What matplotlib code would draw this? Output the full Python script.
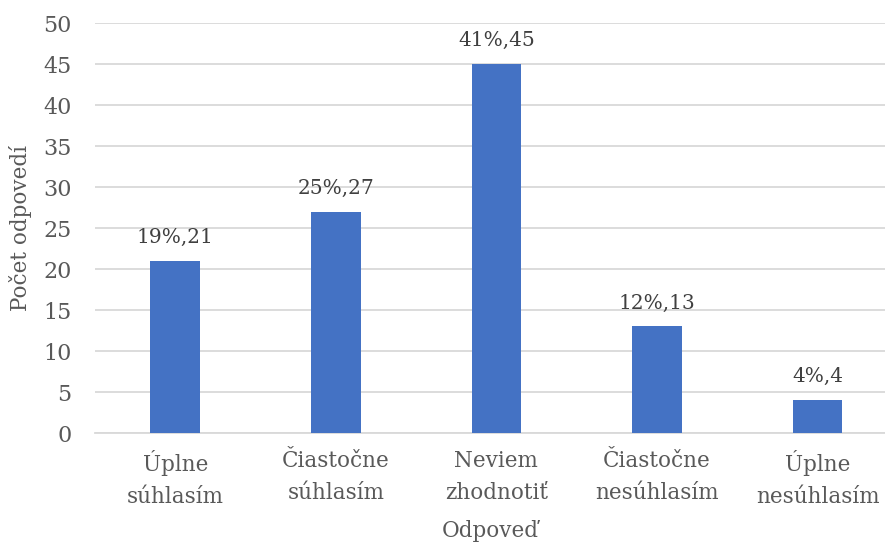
import matplotlib
matplotlib.use("Agg")
import matplotlib.pyplot as plt

categories = ["Úplne\nsúhlasím", "Čiastočne\nsúhlasím", "Neviem\nzhodnotiť",
              "Čiastočne\nnesúhlasím", "Úplne\nnesúhlasím"]
counts = [21, 27, 45, 13, 4]
percents = ["19%", "25%", "41%", "12%", "4%"]
yticks = [0, 5, 10, 15, 20, 25, 30, 35, 40, 45, 50]

plt.rcParams['font.family'] = ['DejaVu Serif']
text_color = '#595959'

fig = plt.figure(figsize=(8.85, 5.46), dpi=100)
ax = fig.add_axes([95 / 885, 113 / 546, 1 - 95 / 885, (433 - 23.3) / 546])

x = list(range(len(categories)))
bars = ax.bar(x, counts, width=0.31, color='#4472c4', zorder=3)

for i, b in enumerate(bars):
    ax.annotate(f"{percents[i]},{counts[i]}", (b.get_x() + b.get_width() / 2, b.get_height()),
                xytext=(0, 10), textcoords='offset points', ha='center', va='bottom',
                fontsize=14.5, color='#404040')

ax.set_xlim(-0.5, 4.42)
ax.set_ylim(0, 50)
ax.set_yticks(yticks)
ax.set_xticks(x)
ax.set_xticklabels(categories, linespacing=1.6)
ax.yaxis.grid(True, color='#d9d9d9', linewidth=1.3, zorder=0)
for s in ['top', 'right', 'left']:
    ax.spines[s].set_visible(False)
ax.spines['bottom'].set_color('#d9d9d9')
ax.spines['bottom'].set_linewidth(1.3)
ax.tick_params(axis='both', length=0, colors=text_color)
ax.tick_params(axis='x', pad=12, labelsize=15.5)
ax.tick_params(axis='y', pad=17, labelsize=16)

ax.set_xlabel("Odpoveď", fontsize=15.5, color=text_color, labelpad=9)
ax.set_ylabel("Počet odpovedí", fontsize=15.5, color=text_color, labelpad=8)

fig.savefig("out.png", dpi=100)
